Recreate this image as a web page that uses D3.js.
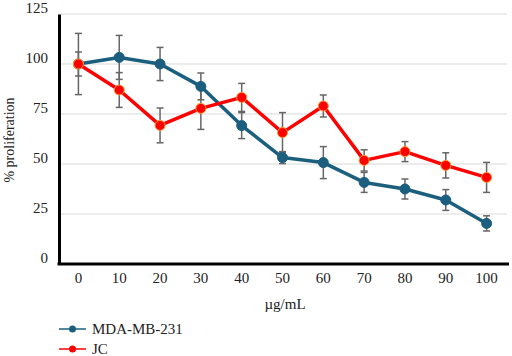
<!DOCTYPE html>
<html><head><meta charset="utf-8">
<script src="https://cdn.jsdelivr.net/npm/d3@7/dist/d3.min.js"></script>
<style>body{margin:0;background:#fff}svg{display:block}</style>
</head><body><svg id="c" width="512" height="356"></svg>
<script>
const categories = ["0","10","20","30","40","50","60","70","80","90","100"];
const mdaValues = [100, 103.3, 100, 88.8, 69.2, 53.2, 50.7, 40.8, 37.5, 32, 20.3];
const mdaErrors = [6, 11, 8.3, 6.7, 6.5, 3, 8, 5, 5, 5.2, 3.8];
const jcValues = [100, 87, 69.3, 77.8, 83.3, 65.7, 79, 51.8, 56.2, 49.3, 43.3];
const jcErrors = [15.3, 8.7, 8.7, 10.5, 7, 10, 5.5, 5.3, 5, 6.3, 7.5];
const yTicks = [0, 25, 50, 75, 100, 125];
const seriesNames = ["MDA-MB-231", "JC"];

const svg = d3.select("#c");
const font = "'Liberation Serif', 'DejaVu Serif', serif";
const x = d3.scaleBand().domain(categories).range([58, 507]);
const y = d3.scaleLinear().domain([0, 125]).range([264, 14]);
const cx = d => x(d) + x.bandwidth() / 2;

// gridlines
svg.append("g").selectAll("line").data(yTicks.filter(t => t > 0)).join("line")
  .attr("x1", 60).attr("x2", 507).attr("y1", d => y(d)).attr("y2", d => y(d))
  .attr("stroke", "#d9d9d9").attr("stroke-width", 1);

// y axis
const yAxis = svg.append("g").attr("transform", "translate(59,0)")
  .call(d3.axisLeft(y).tickValues(yTicks).tickSize(0).tickPadding(11));
yAxis.select(".domain").attr("stroke", "#000").attr("stroke-width", 3);
yAxis.selectAll("text").attr("font-family", font).attr("font-size", 15).attr("fill", "#222")
  .attr("dy", "-0.12em");

// x axis
const xAxis = svg.append("g").attr("transform", "translate(0,264)")
  .call(d3.axisBottom(x).tickSize(0).tickPadding(8));
xAxis.select(".domain").attr("stroke", "#000").attr("stroke-width", 3)
  .attr("d", "M57.5,0H509");
xAxis.selectAll("text").attr("font-family", font).attr("font-size", 15).attr("fill", "#222");

// axis titles
svg.append("text").attr("transform", "translate(14,140) rotate(-90)")
  .attr("text-anchor", "middle").attr("font-family", font).attr("font-size", 14)
  .attr("fill", "#222").text("% proliferation");
svg.append("text").attr("x", 285).attr("y", 309).attr("text-anchor", "middle")
  .attr("font-family", font).attr("font-size", 15).attr("fill", "#222").text("µg/mL");

const series = [
  {name: seriesNames[0], values: mdaValues, errors: mdaErrors, color: "#1b5e7e", edge: "#1b5e7e"},
  {name: seriesNames[1], values: jcValues, errors: jcErrors, color: "#ff0000", edge: "#ff9a2e"}
];

const line = d3.line().x((d, i) => cx(categories[i])).y(d => y(d));

series.forEach(s => {
  const g = svg.append("g");
  const eb = g.selectAll("g.eb").data(s.values.map((v, i) => ({v, e: s.errors[i], c: categories[i]}))).join("g");
  eb.append("line").attr("x1", d => cx(d.c)).attr("x2", d => cx(d.c))
    .attr("y1", d => y(d.v + d.e)).attr("y2", d => y(d.v - d.e))
    .attr("stroke", "#666").attr("stroke-width", 1.5);
  eb.append("line").attr("x1", d => cx(d.c) - 3.5).attr("x2", d => cx(d.c) + 3.5)
    .attr("y1", d => y(d.v + d.e)).attr("y2", d => y(d.v + d.e))
    .attr("stroke", "#666").attr("stroke-width", 1.5);
  eb.append("line").attr("x1", d => cx(d.c) - 3.5).attr("x2", d => cx(d.c) + 3.5)
    .attr("y1", d => y(d.v - d.e)).attr("y2", d => y(d.v - d.e))
    .attr("stroke", "#666").attr("stroke-width", 1.5);
});

series.forEach(s => {
  const g = svg.append("g");
  g.append("path").datum(s.values).attr("d", line).attr("fill", "none")
    .attr("stroke", s.color).attr("stroke-width", 3.5).attr("stroke-linejoin", "round");
  g.selectAll("circle").data(s.values).join("circle")
    .attr("cx", (d, i) => cx(categories[i])).attr("cy", d => y(d)).attr("r", 5)
    .attr("fill", s.color).attr("stroke", s.edge).attr("stroke-width", 1);
});

// legend
const leg = svg.append("g");
series.forEach((s, i) => {
  const ly = 329 + i * 20;
  leg.append("line").attr("x1", 59).attr("x2", 86).attr("y1", ly).attr("y2", ly)
    .attr("stroke", s.color).attr("stroke-width", 1.5);
  leg.append("circle").attr("cx", 72.5).attr("cy", ly).attr("r", 3.5).attr("fill", s.color);
  leg.append("text").attr("x", 92).attr("y", ly + 5).attr("font-family", font)
    .attr("font-size", 15).attr("fill", "#222").text(s.name);
});
</script></body></html>
